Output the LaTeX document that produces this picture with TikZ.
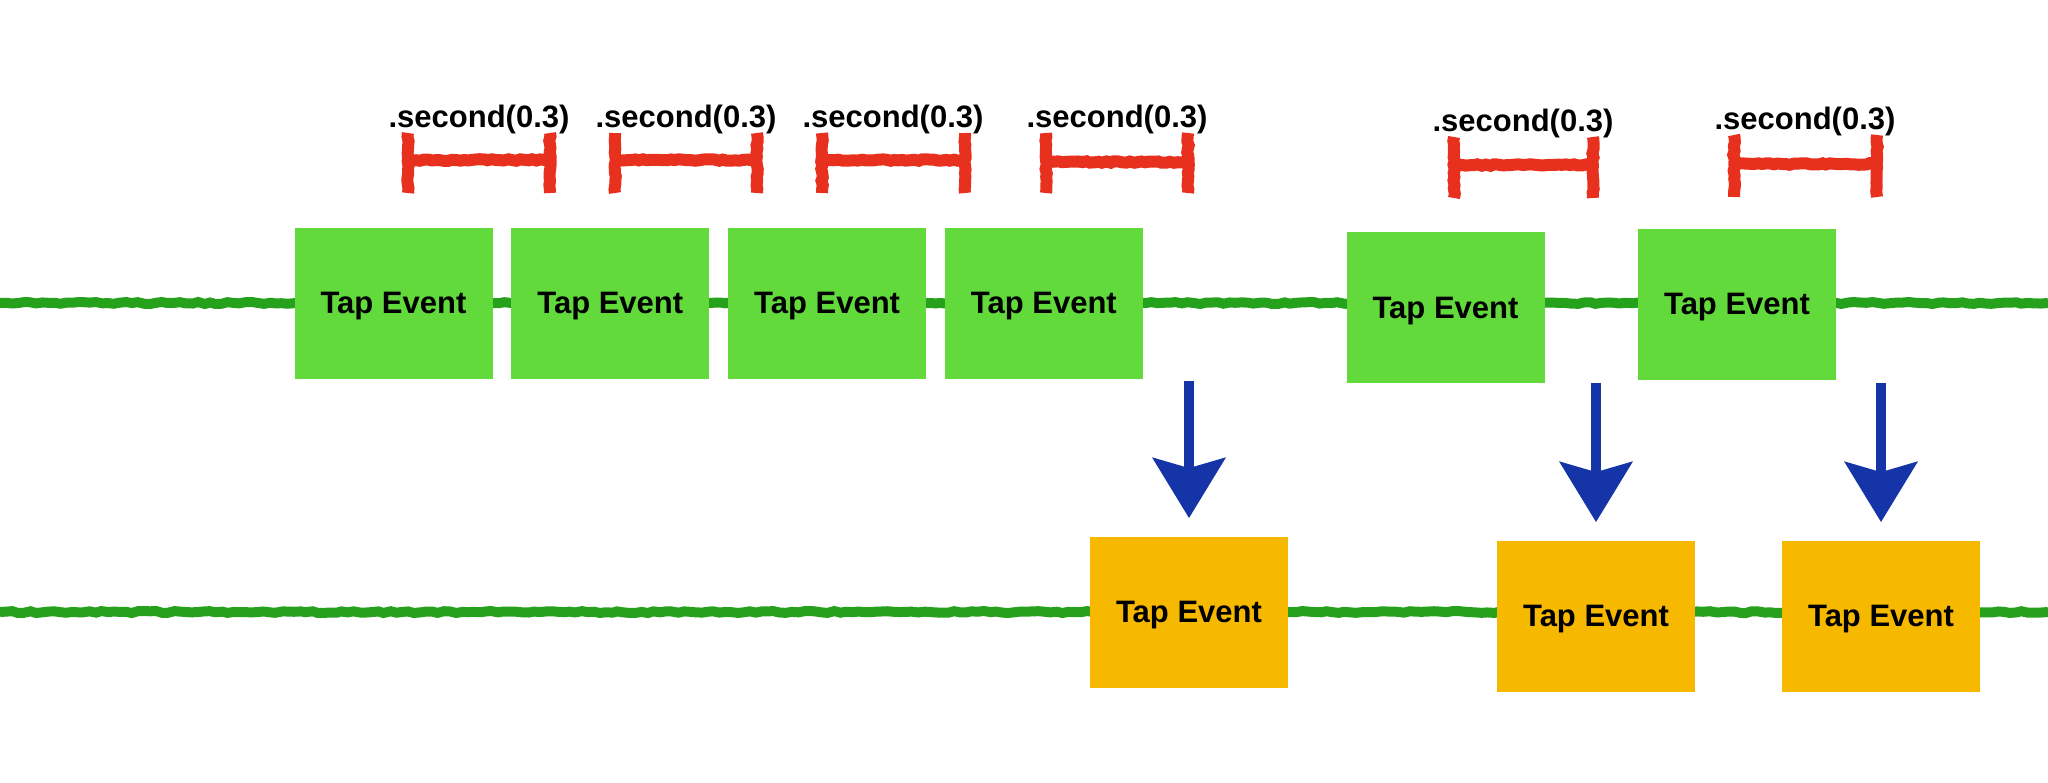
\documentclass[tikz,border=0pt]{standalone}
\usepackage{fontspec}
\setmainfont{Liberation Sans}
\usetikzlibrary{positioning,arrows.meta,decorations.pathmorphing}

\definecolor{tapgreen}{HTML}{62DA3C}
\definecolor{emitorange}{HTML}{F6B900}
\definecolor{linegreen}{HTML}{26A11C}
\definecolor{spanred}{HTML}{E8301E}
\definecolor{arrowblue}{HTML}{1434A8}

\begin{document}
\begin{tikzpicture}[x=0.5pt,y=-0.5pt,
    font=\fontsize{15.5}{18}\selectfont\bfseries,
    tapbox/.style={rectangle,fill=tapgreen,minimum width=99pt,minimum height=75.5pt,
                   inner sep=0pt,text depth=0pt},
    emitbox/.style={tapbox,fill=emitorange},
    timeline/.style={draw=linegreen,line width=5pt,decorate,
                     decoration={random steps,segment length=3pt,amplitude=0.5pt}},
    spanbar/.style={draw=spanred,line width=6pt,decorate,
                    decoration={random steps,segment length=2pt,amplitude=0.4pt}},
    delaylabel/.style={anchor=south,inner sep=0pt},
    emitarrow/.style={draw=arrowblue,line width=5pt,
                      -{Stealth[length=30pt,width=36pt,inset=5pt]},shorten >=9pt}]

  \useasboundingbox (0,0) rectangle (2048,782);
  \pgfmathsetseed{7}

  % the two time lines
  \coordinate (t0) at (0,303);
  \coordinate (t1) at (2048,303);
  \coordinate (u0) at (0,612);
  \coordinate (u1) at (2048,612);
  \path[timeline] (t0) -- (t1);
  \path[timeline] (u0) -- (u1);

  % incoming taps
  \node[tapbox] (g1) at (393.5,303) {Tap Event};
  \node[tapbox] (g2) [right=9pt of g1] {Tap Event};
  \node[tapbox] (g3) [right=9pt of g2] {Tap Event};
  \node[tapbox] (g4) [right=9pt of g3] {Tap Event};
  \node[tapbox] (g5) at (1445.5,307.5) {Tap Event};
  \node[tapbox] (g6) at (1737,304) {Tap Event};

  % debounced output
  \node[emitbox] (o1) at (1189,612) {Tap Event};
  \node[emitbox] (o2) at (1596,616) {Tap Event};
  \node[emitbox] (o3) at (1881,616) {Tap Event};

  \coordinate (a1) at (1189,381);
  \coordinate (a2) at (1596,383);
  \coordinate (a3) at (1881,383);
  \path[emitarrow] (a1) -- (o1.north);
  \path[emitarrow] (a2) -- (o2.north);
  \path[emitarrow] (a3) -- (o3.north);

  % waiting spans
  \path[spanbar] (408,133) -- (408,193) (408,160) -- (550,160) (550,133) -- (550,193);
  \path[spanbar] (615,133) -- (615,193) (615,160) -- (757,160) (757,133) -- (757,193);
  \path[spanbar] (822,133) -- (822,193) (822,160) -- (965,160) (965,133) -- (965,193);
  \path[spanbar] (1046,133) -- (1046,193) (1046,162) -- (1188,162) (1188,133) -- (1188,193);
  \path[spanbar] (1454,137) -- (1454,198) (1454,165) -- (1593,165) (1593,137) -- (1593,198);
  \path[spanbar] (1734,135) -- (1734,197) (1734,164) -- (1877,164) (1877,135) -- (1877,197);

  \node[delaylabel] (d1) at (479,134) {.second(0.3)};
  \node[delaylabel] (d2) at (686,134) {.second(0.3)};
  \node[delaylabel] (d3) at (893,134) {.second(0.3)};
  \node[delaylabel] (d4) at (1117,134) {.second(0.3)};
  \node[delaylabel] (d5) at (1523,138) {.second(0.3)};
  \node[delaylabel] (d6) at (1805,136) {.second(0.3)};
\end{tikzpicture}
\end{document}
